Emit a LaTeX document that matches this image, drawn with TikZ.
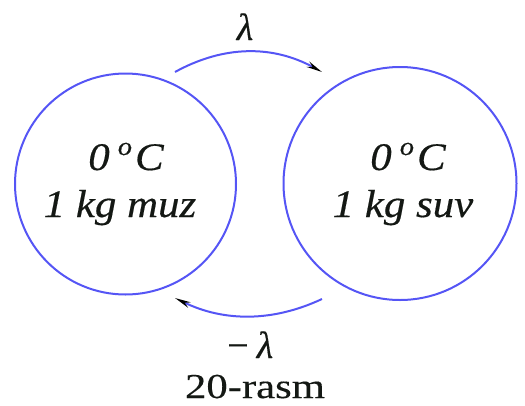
\documentclass[tikz,border=0pt]{standalone}
\usepackage{fontspec}
\setmainfont{Liberation Serif}
\newfontfamily\inner{Liberation Serif}[FakeStretch=1.1,FakeBold=0.4]
\newfontfamily\lamfont{Liberation Serif}[FakeBold=0.4]
\newfontfamily\capt{Liberation Serif}[FakeStretch=1.22,FakeBold=0.3]
\usetikzlibrary{arrows.meta}
\definecolor{ring}{RGB}{85,85,245}
\definecolor{ink}{RGB}{20,24,20}
\newcommand{\degsup}{\hspace{8pt}\raisebox{15pt}{\fontsize{26}{26}\selectfont o}\hspace{3pt}}
\begin{document}
\begin{tikzpicture}[x=1pt,y=-1pt,
  ringnode/.style={circle,draw=ring,line width=2pt,inner sep=0pt},
  intext/.style={font=\inner\itshape\fontsize{39}{44}\selectfont,text=ink,anchor=base,inner sep=0pt},
  lamtext/.style={font=\lamfont\itshape\fontsize{38}{42}\selectfont,text=ink,anchor=base,inner sep=0pt},
  captext/.style={font=\capt\fontsize{35}{40}\selectfont,text=ink,anchor=base,inner sep=0pt},
  flow/.style={draw=ring,line width=2pt,-{Stealth[length=16pt,width=6pt,black]}}]
\useasboundingbox (0,0) rectangle (525,405);
\node[ringnode,minimum size=221pt] (ice) at (125.5,184) {};
\node[ringnode,minimum size=233pt] (water) at (400,183.5) {};
\node[intext] (t1) at (126,170) {0\degsup C};
\node[intext] (m1) at (120,217) {1 kg muz};
\node[intext] (t2) at (408,170) {0\degsup C};
\node[intext] (m2) at (403,217) {1 kg suv};
\coordinate (a1) at (175,72);
\coordinate (a2) at (322,72);
\coordinate (b1) at (322,299);
\coordinate (b2) at (175,298);
\draw[flow] (a1) .. controls (224,45) and (273,45) .. (a2);
\draw[flow] (b1) .. controls (273,322) and (224,322) .. (b2);
\node[lamtext] (lam) at (245,40) {λ};
\node[lamtext] (mlam) at (249,358) {−\,λ};
\node[captext] (cap) at (255,398) {20-rasm};
\end{tikzpicture}
\end{document}
